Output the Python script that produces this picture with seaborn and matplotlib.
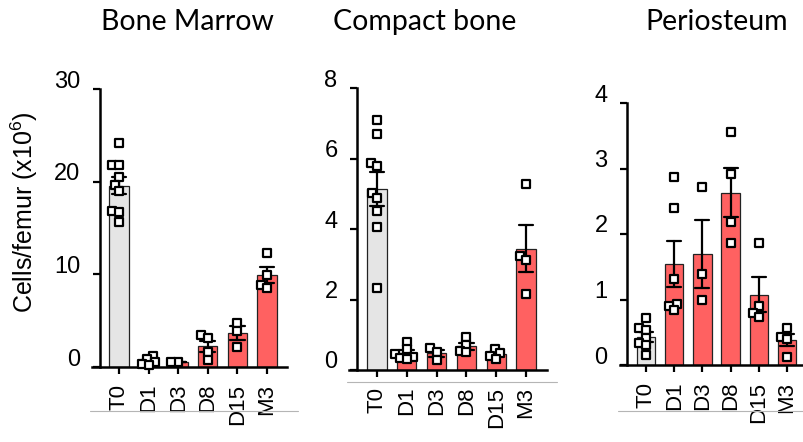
import numpy as np
import pandas as pd
import seaborn as sns
import matplotlib.pyplot as plt
from matplotlib.lines import Line2D
from matplotlib.transforms import ScaledTranslation

sns.set_style('white')
plt.rcParams['font.family'] = ['Liberation Sans', 'DejaVu Sans']
plt.rcParams['mathtext.fontset'] = 'custom'
plt.rcParams['mathtext.rm'] = 'Liberation Sans'
plt.rcParams['text.color'] = 'black'
plt.rcParams['xtick.color'] = 'black'
plt.rcParams['ytick.color'] = 'black'
plt.rcParams['axes.labelcolor'] = 'black'

# Time points
days = ['T0', 'D1', 'D3', 'D8', 'D15', 'M3']

# Bone marrow (cells/femur x10^6)
bm_t0 = [24.2, 21.8, 21.8, 20.5, 19.6, 19.0, 16.85, 16.7, 15.7]
bm_d1 = [1.2, 0.9, 0.5, 0.3, 0.2]
bm_d3 = [0.55, 0.55]
bm_d8 = [3.4, 3.1, 1.6, 0.8]
bm_d15 = [4.8, 3.9, 2.2]
bm_m3 = [12.3, 9.9, 8.8, 8.5]

# Compact bone
cb_t0 = [7.09, 6.69, 5.88, 5.79, 5.01, 4.89, 4.51, 4.07, 2.34]
cb_d1 = [0.80, 0.60, 0.45, 0.38, 0.35, 0.30]
cb_d3 = [0.61, 0.52, 0.28]
cb_d8 = [0.94, 0.72, 0.55, 0.50]
cb_d15 = [0.60, 0.47, 0.40, 0.32]
cb_m3 = [5.28, 3.22, 3.12, 2.15]

# Periosteum
pe_t0 = [0.71, 0.56, 0.54, 0.41, 0.33, 0.30, 0.15]
pe_d1 = [2.87, 2.40, 1.31, 0.93, 0.90, 0.84]
pe_d3 = [2.71, 1.39, 0.99]
pe_d8 = [3.56, 2.91, 2.19, 1.87]
pe_d15 = [1.87, 0.90, 0.79, 0.73]
pe_m3 = [0.56, 0.43, 0.39, 0.12]

titles = ['Bone Marrow', 'Compact bone', 'Periosteum']
yticks = [[0, 10, 20, 30], [0, 2, 4, 6, 8], [0, 1, 2, 3, 4]]


def to_long(groups):
    rows = []
    for d, vals in zip(days, groups):
        for v in vals:
            rows.append({'day': d, 'value': v})
    return pd.DataFrame(rows)


panels = [
    to_long([bm_t0, bm_d1, bm_d3, bm_d8, bm_d15, bm_m3]),
    to_long([cb_t0, cb_d1, cb_d3, cb_d8, cb_d15, cb_m3]),
    to_long([pe_t0, pe_d1, pe_d3, pe_d8, pe_d15, pe_m3]),
]

# layout (figure pixels): left, right, y of zero, y of top tick, first tick x, tick spacing, spine x
W, H = 804, 442
layout = [
    (92, 287, 367, 89, 119, 29.6, 100),
    (349, 547, 370, 88, 377, 29.8, 357),
    (620, 803, 365, 103, 646, 28.2, 627),
]
title_x = [187, 425, 717]
gray_lines = [(90, 298, 411), (347, 557, 382), (618, 804, 411)]

palette = {d: ('#e5e5e5' if d == 'T0' else '#ff6161') for d in days}

fig = plt.figure(figsize=(W / 100, H / 100), dpi=100)
swarms = []

for i, df in enumerate(panels):
    left, right, y0, ytop, x0, dx, sx = layout[i]
    ax = fig.add_axes([left / W, (H - y0) / H, (right - left) / W, (y0 - ytop) / H])
    sns.barplot(data=df, x='day', y='value', hue='day', order=days, hue_order=days,
                palette=palette, saturation=1, errorbar='se', capsize=0.5, width=0.65,
                edgecolor='#222222', linewidth=0.9,
                err_kws={'color': 'black', 'linewidth': 1.6}, legend=False, ax=ax)
    n_before = len(ax.collections)
    # small markers for a tight swarm layout, enlarged after placement
    sns.swarmplot(data=df, x='day', y='value', order=days, marker='s', color='white',
                  edgecolor='black', linewidth=1.6, size=3.2, ax=ax)
    for c in ax.collections[n_before:]:
        c.set_clip_on(False)
        c.set_zorder(5)
        swarms.append(c)

    ymax = yticks[i][-1]
    ax.set_ylim(0, ymax)
    ax.set_xlim((left - x0) / dx, (right - x0) / dx)
    ax.set_yticks(yticks[i])
    ax.set_xlabel('')
    ax.set_ylabel('')

    for s in ['top', 'right']:
        ax.spines[s].set_visible(False)
    ax.spines['left'].set_position(('data', (sx - x0) / dx))
    ax.spines['left'].set_bounds(0, ymax)
    for s in ['left', 'bottom']:
        ax.spines[s].set_linewidth(1.8)
        ax.spines[s].set_color('black')

    ax.tick_params(axis='y', direction='out', length=5, width=1.6, pad=9,
                   labelsize=17, left=True)
    ax.tick_params(axis='x', direction='out', length=5, width=1.6, pad=7,
                   labelsize=16, bottom=True, rotation=90)
    for lab in ax.get_yticklabels():
        lab.set_transform(lab.get_transform() + ScaledTranslation(0, 0.1, fig.dpi_scale_trans))

    fig.text(title_x[i] / W, 1 - 22 / H, titles[i], ha='center', va='center',
             fontsize=20.5, family=['Lato', 'DejaVu Sans'])

    gx0, gx1, gy = gray_lines[i]
    fig.add_artist(Line2D([gx0 / W, gx1 / W], [1 - gy / H, 1 - gy / H],
                          color='#b5b5b5', linewidth=0.8, transform=fig.transFigure))

fig.text(24 / W, 1 - 212 / H, r'Cells/femur (x10$^{\mathrm{6}}$)', rotation=90,
         ha='center', va='center', fontsize=18)

# fix swarm positions, then draw larger square markers
fig.canvas.draw()
for c in swarms:
    if 'draw' in c.__dict__:
        del c.draw
    c.set_sizes([6.2 ** 2])

fig.savefig('out.png', dpi=100)
